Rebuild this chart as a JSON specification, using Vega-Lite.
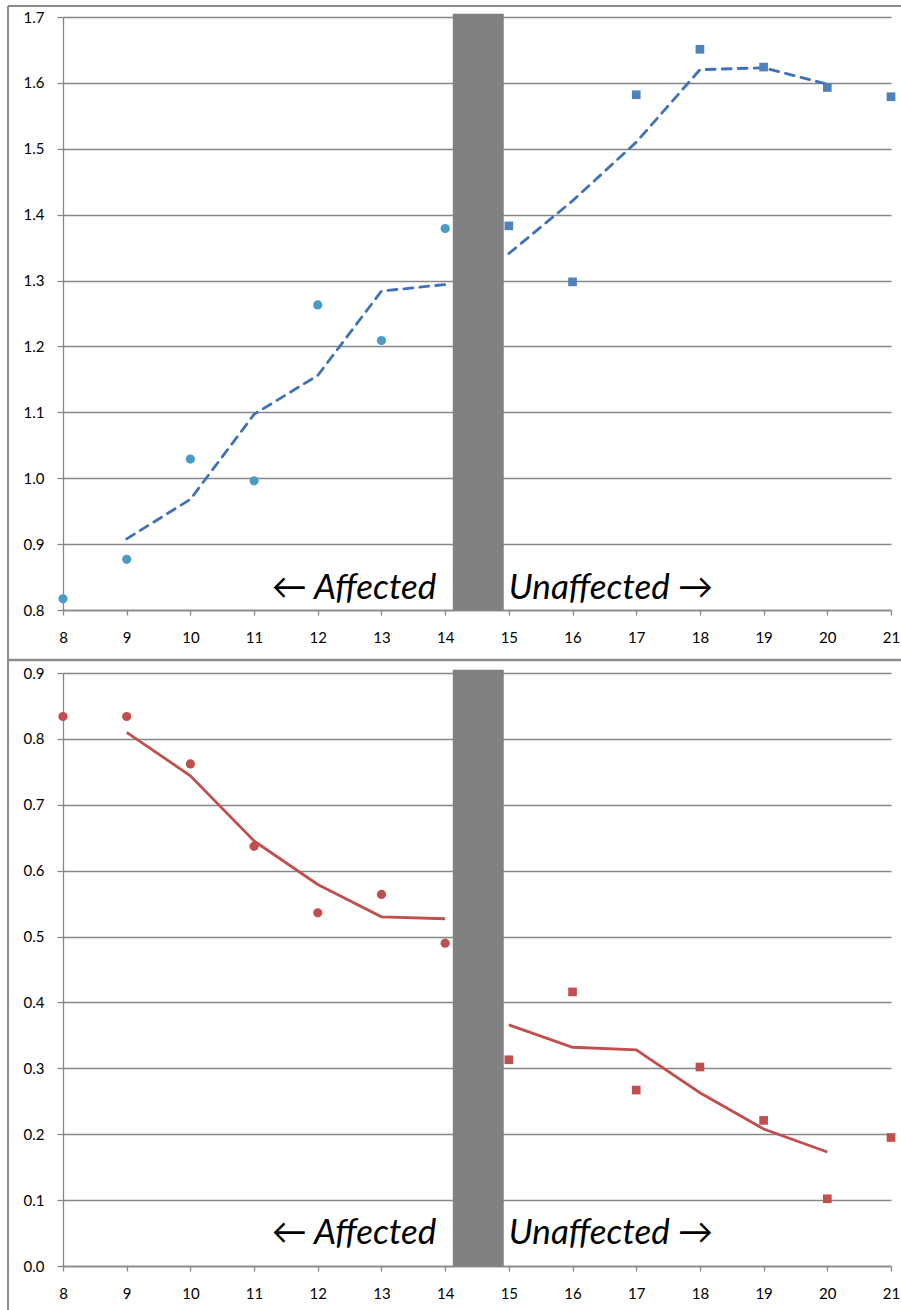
{
  "$schema": "https://vega.github.io/schema/vega-lite/v6.json",
  "padding": {"left": 6, "top": 4, "right": 0, "bottom": 0},
  "bounds": "flush",
  "spacing": 63,
  "config": {
    "font": "Lato",
    "view": {"stroke": null},
    "axis": {
      "labelFont": "Lato", "labelFontSize": 15, "labelColor": "#000000",
      "gridColor": "#878787", "gridWidth": 1.3,
      "domainColor": "#878787", "domainWidth": 1.3,
      "tickColor": "#878787", "tickWidth": 1.3, "title": null
    }
  },
  "datasets": {
    "one": [{}],
    "topPts": [
      {"x": 8, "y": 0.817, "g": "Affected"},
      {"x": 9, "y": 0.877, "g": "Affected"},
      {"x": 10, "y": 1.029, "g": "Affected"},
      {"x": 11, "y": 0.996, "g": "Affected"},
      {"x": 12, "y": 1.263, "g": "Affected"},
      {"x": 13, "y": 1.209, "g": "Affected"},
      {"x": 14, "y": 1.379, "g": "Affected"},
      {"x": 15, "y": 1.383, "g": "Unaffected"},
      {"x": 16, "y": 1.298, "g": "Unaffected"},
      {"x": 17, "y": 1.582, "g": "Unaffected"},
      {"x": 18, "y": 1.651, "g": "Unaffected"},
      {"x": 19, "y": 1.624, "g": "Unaffected"},
      {"x": 20, "y": 1.593, "g": "Unaffected"},
      {"x": 21, "y": 1.579, "g": "Unaffected"}
    ],
    "topMA": [
      {"x": 9, "y": 0.908, "seg": "A"},
      {"x": 10, "y": 0.968, "seg": "A"},
      {"x": 11, "y": 1.097, "seg": "A"},
      {"x": 12, "y": 1.156, "seg": "A"},
      {"x": 13, "y": 1.284, "seg": "A"},
      {"x": 14, "y": 1.294, "seg": "A"},
      {"x": 15, "y": 1.341, "seg": "B"},
      {"x": 16, "y": 1.421, "seg": "B"},
      {"x": 17, "y": 1.510, "seg": "B"},
      {"x": 18, "y": 1.620, "seg": "B"},
      {"x": 19, "y": 1.623, "seg": "B"},
      {"x": 20, "y": 1.598, "seg": "B"}
    ],
    "botPts": [
      {"x": 8, "y": 0.834, "g": "Affected"},
      {"x": 9, "y": 0.834, "g": "Affected"},
      {"x": 10, "y": 0.762, "g": "Affected"},
      {"x": 11, "y": 0.637, "g": "Affected"},
      {"x": 12, "y": 0.536, "g": "Affected"},
      {"x": 13, "y": 0.564, "g": "Affected"},
      {"x": 14, "y": 0.490, "g": "Affected"},
      {"x": 15, "y": 0.313, "g": "Unaffected"},
      {"x": 16, "y": 0.416, "g": "Unaffected"},
      {"x": 17, "y": 0.267, "g": "Unaffected"},
      {"x": 18, "y": 0.302, "g": "Unaffected"},
      {"x": 19, "y": 0.221, "g": "Unaffected"},
      {"x": 20, "y": 0.102, "g": "Unaffected"},
      {"x": 21, "y": 0.195, "g": "Unaffected"}
    ],
    "botMA": [
      {"x": 9, "y": 0.810, "seg": "A"},
      {"x": 10, "y": 0.744, "seg": "A"},
      {"x": 11, "y": 0.645, "seg": "A"},
      {"x": 12, "y": 0.579, "seg": "A"},
      {"x": 13, "y": 0.530, "seg": "A"},
      {"x": 14, "y": 0.527, "seg": "A"},
      {"x": 15, "y": 0.366, "seg": "B"},
      {"x": 16, "y": 0.332, "seg": "B"},
      {"x": 17, "y": 0.328, "seg": "B"},
      {"x": 18, "y": 0.263, "seg": "B"},
      {"x": 19, "y": 0.208, "seg": "B"},
      {"x": 20, "y": 0.173, "seg": "B"}
    ],
    "labels": [
      {"x": 13.86, "t": "← Affected", "side": "left"},
      {"x": 15.0, "t": "Unaffected →", "side": "right"}
    ]
  },
  "vconcat": [
    {
      "width": 828,
      "height": 593,
      "layer": [
        {"data": {"name": "one"},
         "mark": {"type": "rule", "color": "#8c8c8c", "strokeWidth": 2},
         "encoding": {
           "x": {"datum": 7.137, "type": "quantitative", "scale": {"domain": [8, 21], "nice": false, "zero": false},
                 "axis": {"values": [8,9,10,11,12,13,14,15,16,17,18,19,20,21], "format": "d", "grid": false, "tickSize": 5, "labelPadding": 15, "labelFlush": false}},
           "x2": {"datum": 21.3},
           "y": {"datum": 1.7167, "type": "quantitative", "scale": {"domain": [0.8, 1.7], "nice": false, "zero": false},
                 "axis": {"values": [0.8,0.9,1.0,1.1,1.2,1.3,1.4,1.5,1.6,1.7], "format": ".1f", "grid": true, "tickSize": 6, "labelPadding": 13}}}},
        {"data": {"name": "one"},
         "mark": {"type": "rule", "color": "#8c8c8c", "strokeWidth": 2},
         "encoding": {"x": {"datum": 7.137}, "y": {"datum": 1.7167}, "y2": {"datum": 0.7241}}},
        {"data": {"name": "one"},
         "mark": {"type": "rule", "color": "#8c8c8c", "strokeWidth": 2.5},
         "encoding": {"x": {"datum": 7.137}, "x2": {"datum": 21.3}, "y": {"datum": 0.7241}}},
        {"data": {"name": "one"},
         "mark": {"type": "rect", "color": "#808080"},
         "encoding": {"x": {"datum": 14.12}, "x2": {"datum": 14.92}, "y": {"datum": 0.8}, "y2": {"datum": 1.705}}},
        {"data": {"name": "topMA"},
         "mark": {"type": "line", "color": "#3f72b8", "strokeWidth": 2.8, "strokeDash": [9, 7], "strokeCap": "round"},
         "encoding": {"x": {"field": "x", "type": "quantitative"}, "y": {"field": "y", "type": "quantitative"}, "detail": {"field": "seg"}}},
        {"data": {"name": "topPts"},
         "mark": {"type": "point", "filled": true, "opacity": 1},
         "encoding": {"x": {"field": "x", "type": "quantitative"}, "y": {"field": "y", "type": "quantitative"},
           "shape": {"field": "g", "type": "nominal", "scale": {"domain": ["Affected", "Unaffected"], "range": ["circle", "square"]}, "legend": null},
           "color": {"field": "g", "type": "nominal", "scale": {"domain": ["Affected", "Unaffected"], "range": ["#4a9bc8", "#4f81bd"]}, "legend": null},
           "size": {"field": "g", "type": "nominal", "scale": {"domain": ["Affected", "Unaffected"], "range": [85, 75]}, "legend": null}}},
        {"data": {"name": "labels"},
         "transform": [{"filter": "datum.side == 'left'"}],
         "mark": {"type": "text", "fontSize": 35, "fontStyle": "italic", "font": "Lato", "color": "#000000", "baseline": "middle", "align": "right"},
         "encoding": {"x": {"field": "x", "type": "quantitative"}, "y": {"datum": 0.833}, "text": {"field": "t"}}},
        {"data": {"name": "labels"},
         "transform": [{"filter": "datum.side == 'right'"}],
         "mark": {"type": "text", "fontSize": 35, "fontStyle": "italic", "font": "Lato", "color": "#000000", "baseline": "middle", "align": "left"},
         "encoding": {"x": {"field": "x", "type": "quantitative"}, "y": {"datum": 0.833}, "text": {"field": "t"}}}
      ]
    },
    {
      "width": 828,
      "height": 593,
      "layer": [
        {"data": {"name": "one"},
         "mark": {"type": "rule", "color": "#8c8c8c", "strokeWidth": 2},
         "encoding": {
           "x": {"datum": 7.137, "type": "quantitative", "scale": {"domain": [8, 21], "nice": false, "zero": false},
                 "axis": {"values": [8,9,10,11,12,13,14,15,16,17,18,19,20,21], "format": "d", "grid": false, "tickSize": 5, "labelPadding": 15, "labelFlush": false}},
           "y": {"datum": 0.9197, "type": "quantitative", "scale": {"domain": [0, 0.9], "nice": false, "zero": false},
                 "axis": {"values": [0,0.1,0.2,0.3,0.4,0.5,0.6,0.7,0.8,0.9], "format": ".1f", "grid": true, "tickSize": 6, "labelPadding": 13}},
           "y2": {"datum": -0.08}}},
        {"data": {"name": "one"},
         "mark": {"type": "rect", "color": "#808080"},
         "encoding": {"x": {"datum": 14.12}, "x2": {"datum": 14.92}, "y": {"datum": 0}, "y2": {"datum": 0.905}}},
        {"data": {"name": "botMA"},
         "mark": {"type": "line", "color": "#c0504d", "strokeWidth": 2.8},
         "encoding": {"x": {"field": "x", "type": "quantitative"}, "y": {"field": "y", "type": "quantitative"}, "detail": {"field": "seg"}}},
        {"data": {"name": "botPts"},
         "mark": {"type": "point", "filled": true, "opacity": 1, "color": "#c0504d"},
         "encoding": {"x": {"field": "x", "type": "quantitative"}, "y": {"field": "y", "type": "quantitative"},
           "shape": {"field": "g", "type": "nominal", "scale": {"domain": ["Affected", "Unaffected"], "range": ["circle", "square"]}, "legend": null},
           "size": {"field": "g", "type": "nominal", "scale": {"domain": ["Affected", "Unaffected"], "range": [50, 64]}, "legend": null}}},
        {"data": {"name": "labels"},
         "transform": [{"filter": "datum.side == 'left'"}],
         "mark": {"type": "text", "fontSize": 35, "fontStyle": "italic", "font": "Lato", "color": "#000000", "baseline": "middle", "align": "right"},
         "encoding": {"x": {"field": "x", "type": "quantitative"}, "y": {"datum": 0.05}, "text": {"field": "t"}}},
        {"data": {"name": "labels"},
         "transform": [{"filter": "datum.side == 'right'"}],
         "mark": {"type": "text", "fontSize": 35, "fontStyle": "italic", "font": "Lato", "color": "#000000", "baseline": "middle", "align": "left"},
         "encoding": {"x": {"field": "x", "type": "quantitative"}, "y": {"datum": 0.05}, "text": {"field": "t"}}}
      ]
    }
  ]
}
